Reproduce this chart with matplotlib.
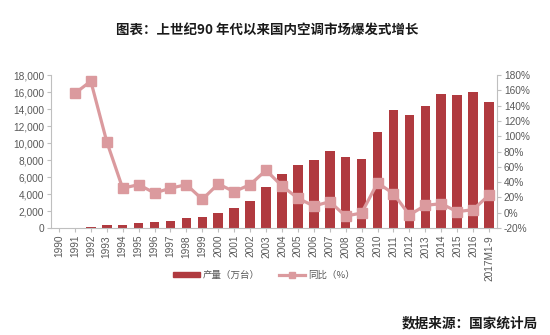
import matplotlib
matplotlib.use("Agg")
import matplotlib.pyplot as plt
import numpy as np
from matplotlib.lines import Line2D
from matplotlib.patches import Patch

years = ["1990", "1991", "1992", "1993", "1994", "1995", "1996", "1997", "1998", "1999",
         "2000", "2001", "2002", "2003", "2004", "2005", "2006", "2007", "2008", "2009",
         "2010", "2011", "2012", "2013", "2014", "2015", "2016", "2017M1-9"]
output = [20, 50, 150, 300, 400, 550, 670, 865, 1140, 1300,
          1810, 2320, 3140, 4800, 6380, 7470, 7980, 9040, 8330, 8170,
          11240, 13910, 13280, 14340, 15760, 15680, 16030, 14860]
yoy_years = years[1:]
yoy = [156, 172, 93, 32, 36.7, 25.8, 32, 36.7, 17.5,
       37.6, 27.5, 36.7, 55.5, 35, 19, 8.7, 14.4, -4.4, -0.4,
       39, 25, -3, 9.6, 11.8, 1.3, 4, 23]

plt.rcParams['font.family'] = ['Noto Sans CJK SC', 'DejaVu Sans']

bar_color = "#B03A3F"
line_color = "#DB9A9E"
grey = "#595959"

fig = plt.figure(figsize=(5.5, 3.35), dpi=100)
ax = fig.add_axes([0.0927, 0.3194, 0.8109, 0.4566])
x = np.arange(len(years))
ax.bar(x, output, width=0.6, color=bar_color, zorder=2)
ax.set_xlim(-0.5, len(years) - 0.5)
ax.set_ylim(0, 18000)
ax.set_yticks(np.arange(0, 18001, 2000))
ax.set_yticklabels([f"{v:,}" for v in range(0, 18001, 2000)], fontsize=7.3, color=grey,
                   family=['Liberation Sans'])
ax.set_xticks(x)
ax.set_xticklabels(years, rotation=90, fontsize=7.3, color=grey, family=['Liberation Sans'])
for s in ["top", "right"]:
    ax.spines[s].set_visible(False)
for s in ["left", "bottom"]:
    ax.spines[s].set_color("#BFBFBF")
    ax.spines[s].set_linewidth(0.8)
ax.tick_params(axis='both', length=3, color="#BFBFBF", width=0.8, pad=2)

ax2 = ax.twinx()
xi = [years.index(y) for y in yoy_years]
ax2.plot(xi, yoy, color=line_color, lw=2.3, marker='s', markersize=7.5, zorder=3)
ax2.set_ylim(-20, 180)
ax2.set_yticks(np.arange(-20, 181, 20))
ax2.set_yticklabels([f"{v}%" for v in range(-20, 181, 20)], fontsize=7.3, color=grey,
                    family=['Liberation Sans'])
for s in ["top", "left", "bottom"]:
    ax2.spines[s].set_visible(False)
ax2.spines["right"].set_color("#BFBFBF")
ax2.spines["right"].set_linewidth(0.8)
ax2.tick_params(axis='y', length=3, color="#BFBFBF", width=0.8, pad=2)

fig.text(0.486, 0.91, "图表：上世纪90 年代以来国内空调市场爆发式增长", ha='center', va='center',
         fontsize=9.7, fontweight='bold', color="#1a1a1a")

handles = [Patch(color=bar_color),
           Line2D([0], [0], color=line_color, lw=2.3, marker='s', markersize=5)]
fig.legend(handles, ["产量（万台）", "同比（%）"], loc='center', bbox_to_anchor=(0.48, 0.178),
           ncol=2, frameon=False, fontsize=6.8, labelcolor=grey, handlelength=2.8,
           handleheight=0.5, columnspacing=2.0, handletextpad=0.3)

fig.text(0.978, 0.035, "数据来源：国家统计局", ha='right', va='center', fontsize=9.8,
         fontweight='bold', color="#1a1a1a")

fig.savefig("out.png", dpi=100)
